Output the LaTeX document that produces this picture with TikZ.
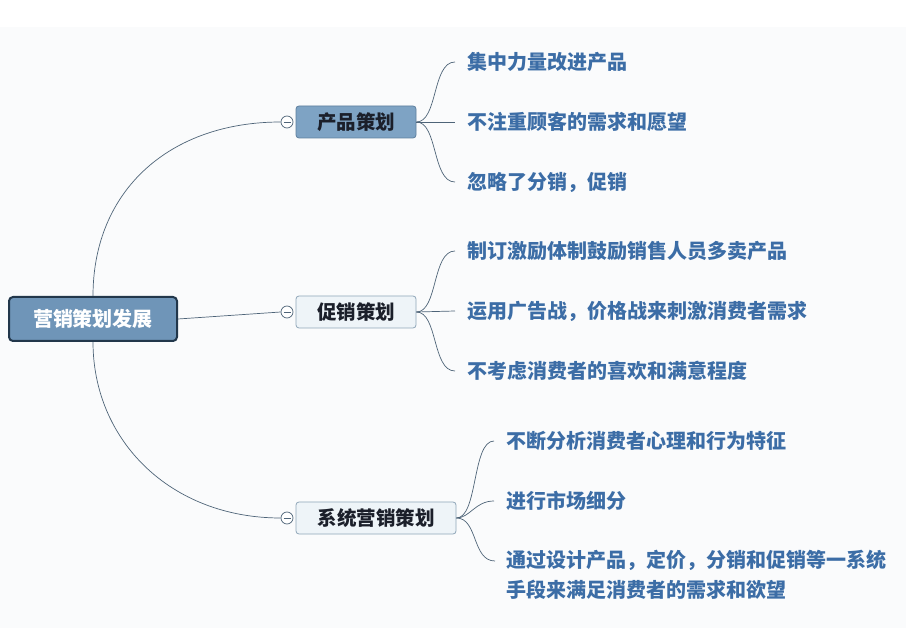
\documentclass[tikz,border=0pt]{standalone}
\usepackage{fontspec}
\newfontfamily\cjk{Noto Sans CJK SC}
\definecolor{bgtop}{HTML}{FFFFFF}
\definecolor{bggray}{HTML}{FAFBFC}
\definecolor{rootfill}{HTML}{6F95B8}
\definecolor{rootdraw}{HTML}{22374B}
\definecolor{b1fill}{HTML}{7EA3C4}
\definecolor{b1draw}{HTML}{5E7F9E}
\definecolor{b2fill}{HTML}{EEF4F8}
\definecolor{b2draw}{HTML}{8FA6B8}
\definecolor{leaftext}{HTML}{3C6DA6}
\definecolor{linec}{HTML}{4E6478}
\definecolor{darktext}{HTML}{1B1F2A}
\tikzset{
  rootbox/.style={draw=rootdraw, line width=2pt, fill=rootfill, rounded corners=4pt,
    minimum width=168pt, minimum height=44pt, inner sep=0pt,
    font=\cjk\bfseries\fontsize{20}{24}\selectfont, text=white},
  darkbranch/.style={draw=b1draw, line width=0.8pt, fill=b1fill, rounded corners=3pt,
    minimum height=32pt, inner sep=0pt, font=\cjk\bfseries\fontsize{19.5}{23}\selectfont, text=darktext},
  lightbranch/.style={draw=b2draw, line width=0.8pt, fill=b2fill, rounded corners=3pt,
    minimum height=32pt, inner sep=0pt, font=\cjk\bfseries\fontsize{19.5}{23}\selectfont, text=darktext},
  toggle/.style={circle, draw=linec, line width=0.7pt, fill=white, minimum size=12pt, inner sep=0pt,
    path picture={\draw[linec, line width=0.7pt] ([xshift=-3.5pt]path picture bounding box.center) -- ([xshift=3.5pt]path picture bounding box.center);}},
  leaf/.style={anchor=west, inner sep=0pt, text=leaftext, font=\cjk\bfseries\fontsize{20}{30}\selectfont},
  conn/.style={draw=linec, line width=0.7pt},
}
\begin{document}
\begin{tikzpicture}[x=1pt, y=-1pt]
\useasboundingbox (0,0) rectangle (906,628);
\fill[bgtop] (0,0) rectangle (906,628);
\fill[bggray] (0,27) rectangle (906,628);

% root
\node[rootbox] (root) at (93,319) {营销策划发展};

% branches
\node[darkbranch, minimum width=120pt] (b1) at (356,122) {产品策划};
\node[lightbranch, minimum width=120pt] (b2) at (356,312) {促销策划};
\node[lightbranch, minimum width=160pt] (b3) at (376,518) {系统营销策划};

\node[toggle] (c1) at (287,122) {};
\node[toggle] (c2) at (287,312) {};
\node[toggle] (c3) at (287,518) {};

% root connectors
\draw[conn] (root.north) .. controls (93,190) and (170,122) .. (c1.west);
\draw[conn] (root.east) -- (c2.west);
\draw[conn] (root.south) .. controls (93,440) and (170,518) .. (c3.west);

% leaves branch 1
\node[leaf] (l11) at (467,62) {集中力量改进产品};
\node[leaf] (l12) at (467,122) {不注重顾客的需求和愿望};
\node[leaf] (l13) at (467,182) {忽略了分销，促销};
% leaves branch 2
\node[leaf] (l21) at (467,251) {制订激励体制鼓励销售人员多卖产品};
\node[leaf] (l22) at (467,311) {运用广告战，价格战来刺激消费者需求};
\node[leaf] (l23) at (467,371) {不考虑消费者的喜欢和满意程度};
% leaves branch 3
\node[leaf] (l31) at (506,441) {不断分析消费者心理和行为特征};
\node[leaf] (l32) at (506,501) {进行市场细分};
\node[leaf, anchor=north west, align=left] (l33) at (506,550) {通过设计产品，定价，分销和促销等一系统\\手段来满足消费者的需求和欲望};
\coordinate (e33) at (495,561);

% leaf connectors
\draw[conn] (b1.east) .. controls (438,122) and (432,62) .. ([xshift=-12pt]l11.west);
\draw[conn] (b1.east) -- ([xshift=-12pt]l12.west);
\draw[conn] (b1.east) .. controls (438,122) and (432,182) .. ([xshift=-12pt]l13.west);

\draw[conn] (b2.east) .. controls (438,312) and (432,251) .. ([xshift=-12pt]l21.west);
\draw[conn] (b2.east) -- ([xshift=-12pt]l22.west);
\draw[conn] (b2.east) .. controls (438,312) and (432,371) .. ([xshift=-12pt]l23.west);

\draw[conn] (b3.east) .. controls (478,518) and (472,441) .. ([xshift=-12pt]l31.west);
\draw[conn] (b3.east) .. controls (470,518) and (475,501) .. ([xshift=-12pt]l32.west);
\draw[conn] (b3.east) .. controls (478,518) and (472,561) .. (e33);
\end{tikzpicture}
\end{document}
